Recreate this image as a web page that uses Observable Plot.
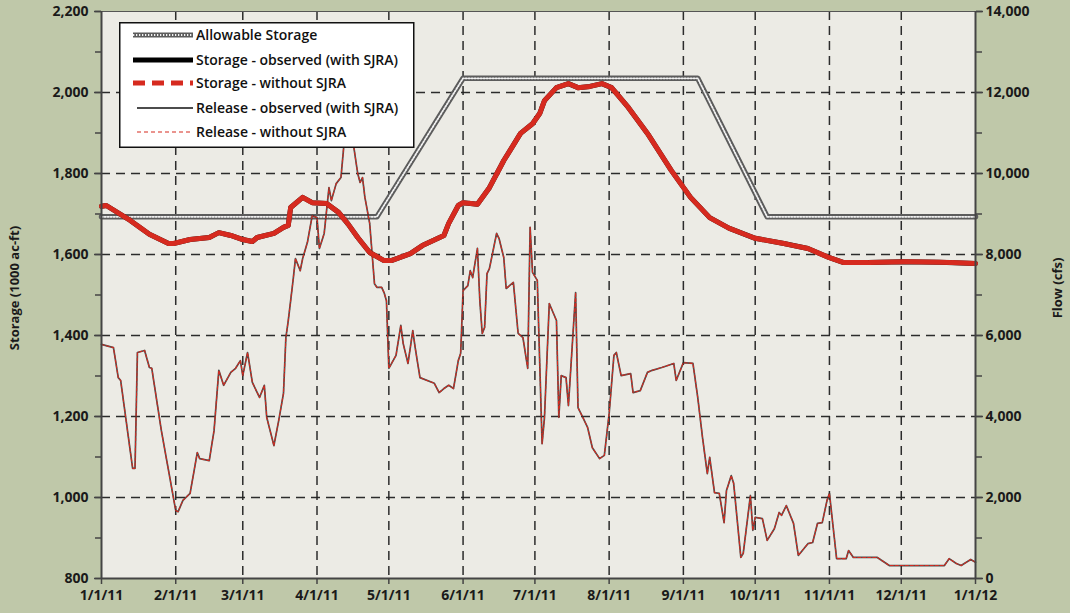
<!DOCTYPE html>
<html><head><meta charset="utf-8">
<script src="https://cdn.jsdelivr.net/npm/d3@7"></script>
<script src="https://cdn.jsdelivr.net/npm/@observablehq/plot@0.6"></script>
<style>
html,body{margin:0;padding:0;background:#bfc8a9;}
#wrap{position:relative;width:1070px;height:613px;background:#bfc8a9;font-family:"Open Sans",sans-serif;overflow:hidden;}
#chart svg text{font-weight:700;fill:#1a1a1a;}
#legend{position:absolute;left:119px;top:22px;}
#legend text{font-family:"Open Sans",sans-serif;font-size:14px;font-weight:600;fill:#111;}
</style></head>
<body><div id="wrap"><div id="chart"></div><div id="legend"></div></div>
<script>
// ---- data (day offsets from 1/1/11) ----
const allowDays   = [0, 115, 151, 249, 278, 365];
const allowValues = [1693, 1693, 2035, 2035, 1693, 1693];

const storageDays = [0,2,12,20,28,30,37,45,49,54,59,63,65,72,76,78,79,84,88,94,99,103,107,112,118,121,129,134,143,145,149,151,157,162,168,175,180,183,185,190,195,199,204,209,213,220,228,238,246,254,262,273,285,295,304,310,320,335,350,365];
const storageValues = [1719,1721,1684,1650,1627,1627,1637,1642,1654,1647,1637,1632,1642,1652,1667,1672,1716,1741,1728,1726,1704,1675,1642,1605,1585,1585,1602,1622,1647,1677,1721,1728,1724,1765,1832,1899,1923,1948,1980,2012,2022,2012,2015,2022,2012,1963,1899,1807,1741,1691,1665,1640,1627,1615,1592,1580,1580,1582,1581,1578];

const releaseDays = [0,5,7,8,13,14,15,18,20,21,25,31,32,34,37,40,41,45,47,49,51,54,56,58,59,61,63,66,68,69,72,74,76,77,78,80,81,83,84,86,88,90,91,93,95,96,98,100,102,104,105,107,108,109,110,112,114,115,117,118,119,120,123,125,126,128,130,131,133,139,141,143,145,147,149,150,151,153,154,155,157,158,159,160,161,162,165,166,168,169,172,174,176,178,179,180,182,184,185,187,190,191,192,194,195,198,199,201,203,205,208,210,212,214,215,217,221,222,225,228,230,234,239,240,243,247,249,251,253,254,256,258,260,261,263,264,267,268,271,272,273,276,278,281,283,284,286,289,291,295,297,299,301,303,304,307,311,312,314,324,329,352,354,357,359,363,365];
const releaseFlow = [5780,5700,4960,4890,2720,2720,5580,5630,5210,5190,3650,1680,1650,1930,2100,3110,2960,2910,3650,5140,4770,5090,5190,5380,5010,5580,4840,4470,4770,3980,3280,3900,4570,5950,6370,7360,7900,7600,7900,8300,8960,8910,8150,8520,9650,9330,9750,9900,11200,11500,10800,10000,9780,9900,9410,8770,7280,7190,7190,7060,6860,5190,5510,6250,5800,5310,6120,5700,4960,4820,4590,4690,4770,4690,5380,5560,7110,7230,7600,7430,8150,6860,6050,6200,7530,7650,8520,8400,7925,7160,7310,6050,5950,5190,8670,7560,7360,3330,3980,6790,6370,3980,5010,4960,4270,7060,4220,3980,3730,3230,2960,3040,4070,5510,5580,5010,5060,4590,4640,5090,5140,5210,5310,4890,5330,5310,4470,3480,2590,2990,2120,2100,1380,2170,2540,2350,520,620,2050,1190,1510,1480,940,1230,1630,1560,1800,1360,570,860,890,1360,1380,1930,2100,490,490,690,520,520,320,320,490,370,320,470,400];

const storageTicks = [800,1000,1200,1400,1600,1800,2000,2200];
const flowTicks    = [0,2000,4000,6000,8000,10000,12000,14000];

// ---- helpers ----
const t0 = Date.UTC(2011,0,1);
const toDate = d => new Date(t0 + d*864e5);
const flowToStorage = f => 800 + f/10;   // right axis 0–14,000 shares the 800–2,200 frame
const months = d3.utcMonth.range(new Date(Date.UTC(2011,0,1)), new Date(Date.UTC(2012,0,2)));

const allow   = allowDays.map((d,i)=>({date:toDate(d), v:allowValues[i]}));
const storage = storageDays.map((d,i)=>({date:toDate(d), v:storageValues[i]}));
const release = releaseDays.map((d,i)=>({date:toDate(d), v:releaseFlow[i]}));

const red = "#d62a1f";
const fmtDate = d => `${d.getUTCMonth()+1}/${d.getUTCDate()}/${String(d.getUTCFullYear()).slice(2)}`;

const chart = Plot.plot({
  width:1070, height:613,
  marginLeft:101, marginRight:95, marginTop:11, marginBottom:35,
  style:{background:"transparent", fontFamily:"'Open Sans',sans-serif", fontSize:"14px", color:"#1a1a1a", overflow:"visible"},
  x:{type:"utc", domain:[months[0], months[months.length-1]]},
  y:{domain:[800,2200]},
  marks:[
    Plot.frame({fill:"#ecebe5", stroke:null}),
    Plot.gridX(months.slice(1,-1), {stroke:"#222", strokeOpacity:0.95, strokeWidth:1.5, strokeDasharray:"9,6"}),
    Plot.gridY(storageTicks.slice(1,-1), {stroke:"#222", strokeOpacity:0.95, strokeWidth:1.5, strokeDasharray:"9,6"}),
    // allowable storage (chain pattern)
    Plot.line(allow, {x:"date", y:"v", stroke:"#5c5c5c", strokeWidth:5.5}),
    Plot.line(allow, {x:"date", y:"v", stroke:"#f2f2f2", strokeWidth:1.8, strokeDasharray:"1.3,1.7"}),
    // release observed + without SJRA
    Plot.line(release, {x:"date", y:d=>flowToStorage(d.v), stroke:"#333", strokeWidth:1.7, strokeOpacity:0.85}),
    Plot.line(release, {x:"date", y:d=>flowToStorage(d.v), stroke:red, strokeWidth:1.1, strokeDasharray:"3,2"}),
    // storage observed + without SJRA
    Plot.line(storage, {x:"date", y:"v", stroke:"#111", strokeWidth:5}),
    Plot.line(storage, {x:"date", y:"v", stroke:red, strokeWidth:5, strokeDasharray:"40,1.5"}),
    // axes lines
    Plot.ruleY([2200], {stroke:"#555", strokeWidth:1}),
    Plot.ruleX([months[0], months[months.length-1]], {stroke:"#444", strokeWidth:2}),
    Plot.ruleY([800], {stroke:"#444", strokeWidth:2}),
    // bottom axis
    Plot.axisX(months, {anchor:"bottom", tickFormat:fmtDate, tickSize:6, tickPadding:6, label:null, stroke:"#444", strokeWidth:1.5}),
    // left axis
    Plot.axisY(d3.range(800,2201,100), {anchor:"left", tickFormat:()=>"", tickSize:6, label:null, stroke:"#444", strokeWidth:1.5}),
    Plot.axisY(storageTicks, {anchor:"left", tickFormat:d3.format(","), tickSize:7, tickPadding:6, label:null, stroke:"#444", strokeWidth:1.5}),
    // right axis (flow)
    Plot.axisY(d3.range(800,2201,100), {anchor:"right", tickFormat:()=>"", tickSize:6, label:null, stroke:"#444", strokeWidth:1.5}),
    Plot.axisY(flowTicks.map(flowToStorage), {anchor:"right", tickFormat:v=>d3.format(",")((v-800)*10), tickSize:7, tickPadding:3, label:null, stroke:"#444", strokeWidth:1.5}),
    // axis titles
    Plot.text(["Storage (1000 ac-ft)"], {frameAnchor:"left", textAnchor:"middle", dx:-87, dy:-7, rotate:-90, fontSize:13}),
    Plot.text(["Flow (cfs)"], {frameAnchor:"right", textAnchor:"middle", dx:82, dy:-7, rotate:-90, fontSize:13})
  ]
});
document.getElementById("chart").appendChild(chart);

// ---- legend ----
const legendItems = [
  {label:"Allowable Storage", kind:"allow"},
  {label:"Storage - observed (with SJRA)", kind:"obsS"},
  {label:"Storage - without SJRA", kind:"woS"},
  {label:"Release - observed (with SJRA)", kind:"obsR"},
  {label:"Release - without SJRA", kind:"woR"}
];
const lg = d3.select("#legend").append("svg").attr("width",296).attr("height",127);
lg.append("rect").attr("x",0.75).attr("y",0.75).attr("width",294).attr("height",124.5).attr("fill","#fff").attr("stroke","#111").attr("stroke-width",1.5);
const rowY = [13, 38, 61, 86, 110];
legendItems.forEach((it,i)=>{
  const y = rowY[i];
  const g = lg.append("g");
  if (it.kind==="allow") {
    g.append("line").attr("x1",14).attr("x2",74).attr("y1",y).attr("y2",y).attr("stroke","#5c5c5c").attr("stroke-width",5);
    g.append("line").attr("x1",14).attr("x2",74).attr("y1",y).attr("y2",y).attr("stroke","#f2f2f2").attr("stroke-width",1.8).attr("stroke-dasharray","1.3,1.7");
  } else if (it.kind==="obsS") {
    g.append("line").attr("x1",14).attr("x2",74).attr("y1",y).attr("y2",y).attr("stroke","#000").attr("stroke-width",5);
  } else if (it.kind==="woS") {
    g.append("line").attr("x1",14).attr("x2",74).attr("y1",y).attr("y2",y).attr("stroke",red).attr("stroke-width",5).attr("stroke-dasharray","12,7");
  } else if (it.kind==="obsR") {
    g.append("line").attr("x1",18).attr("x2",74).attr("y1",y).attr("y2",y).attr("stroke","#111").attr("stroke-width",1.3);
  } else {
    g.append("line").attr("x1",18).attr("x2",74).attr("y1",y).attr("y2",y).attr("stroke",red).attr("stroke-width",1.2).attr("stroke-dasharray","4,3");
  }
  g.append("text").attr("x",77).attr("y",y).attr("dy","0.35em").text(it.label);
});
</script>
</body></html>
